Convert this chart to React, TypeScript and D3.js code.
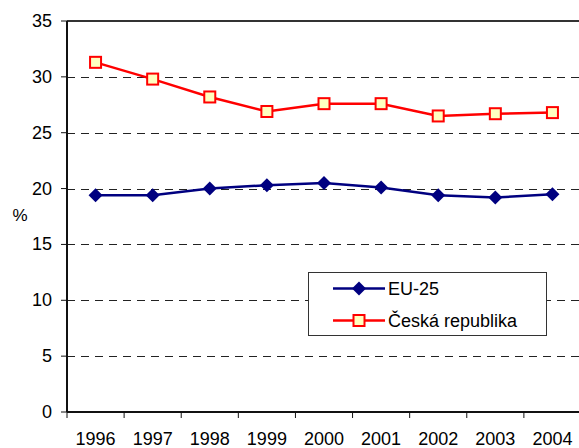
import React from "react";
import * as d3 from "d3";

const years = ["1996", "1997", "1998", "1999", "2000", "2001", "2002", "2003", "2004"];
const euValues = [19.4, 19.4, 20.0, 20.3, 20.5, 20.1, 19.4, 19.2, 19.5];
const czValues = [31.3, 29.8, 28.2, 26.9, 27.6, 27.6, 26.5, 26.7, 26.8];
const yTicks = [0, 5, 10, 15, 20, 25, 30, 35];
const seriesNames = ["EU-25", "Česká republika"];

const W = 579;
const H = 448;
const left = 67;
const right = 581;
const top = 21;
const bottom = 412;
const font = "Arial, 'Liberation Sans', sans-serif";

export default function App() {
  const x = d3.scaleBand<string>().domain(years).range([left, right]);
  const y = d3.scaleLinear().domain([0, 35]).range([bottom, top]);
  const cx = (yr: string) => (x(yr) as number) + x.bandwidth() / 2;

  const line = d3
    .line<[string, number]>()
    .x((d) => cx(d[0]))
    .y((d) => y(d[1]));

  const euData: [string, number][] = years.map((yr, i) => [yr, euValues[i]]);
  const czData: [string, number][] = years.map((yr, i) => [yr, czValues[i]]);

  const diamond = (px: number, py: number, r: number) =>
    `M${px},${py - r}L${px + r},${py}L${px},${py + r}L${px - r},${py}Z`;

  const navy = "#000080";
  const red = "#FF0000";
  const cream = "#FFFFC0";

  const lx0 = 333;
  const lx1 = 385;
  const lxm = 359;
  const ly1 = 288.5;
  const ly2 = 320.5;

  return (
    <svg
      width={W}
      height={H}
      style={{ position: "absolute", left: 0, top: 0, background: "#fff" }}
      fontFamily={font}
    >
      {yTicks
        .filter((t) => t > 0 && t < 35)
        .map((t) => (
          <line
            key={"g" + t}
            x1={left}
            x2={W}
            y1={Math.round(y(t)) + 0.5}
            y2={Math.round(y(t)) + 0.5}
            stroke="#222"
            strokeWidth={1}
            strokeDasharray="8,6"
          />
        ))}
      <line x1={left} x2={W} y1={top} y2={top} stroke="#333" strokeWidth={2} />
      <line x1={left} x2={left} y1={top} y2={bottom} stroke="#111" strokeWidth={2} />
      <line x1={left} x2={W} y1={bottom} y2={bottom} stroke="#111" strokeWidth={2} />
      {yTicks.map((t) => (
        <g key={"y" + t}>
          <line x1={left - 6} x2={left} y1={y(t)} y2={y(t)} stroke="#111" strokeWidth={1} />
          <text
            x={52}
            y={y(t)}
            textAnchor="end"
            dominantBaseline="central"
            fontSize={18}
            fill="#000"
          >
            {t}
          </text>
        </g>
      ))}
      {years.map((yr) => (
        <line
          key={"xt" + yr}
          x1={x(yr) as number}
          x2={x(yr) as number}
          y1={bottom}
          y2={bottom + 6}
          stroke="#111"
          strokeWidth={1}
        />
      ))}
      {years.map((yr) => (
        <text key={"xl" + yr} x={cx(yr)} y={445} textAnchor="middle" fontSize={18} fill="#000">
          {yr}
        </text>
      ))}
      <text x={20} y={215} textAnchor="middle" dominantBaseline="central" fontSize={17} fill="#000">
        %
      </text>

      <path d={line(euData) || ""} fill="none" stroke={navy} strokeWidth={2.5} />
      {euData.map((d) => (
        <path key={"eu" + d[0]} d={diamond(cx(d[0]), y(d[1]), 7)} fill={navy} />
      ))}
      <path d={line(czData) || ""} fill="none" stroke={red} strokeWidth={2.5} />
      {czData.map((d) => (
        <rect
          key={"cz" + d[0]}
          x={cx(d[0]) - 5.5}
          y={y(d[1]) - 5.5}
          width={11}
          height={11}
          fill={cream}
          stroke={red}
          strokeWidth={2}
        />
      ))}

      <rect x={308.5} y={272.5} width={238} height={63} fill="#fff" stroke="#333" strokeWidth={1} />
      <line x1={lx0} x2={lx1} y1={ly1} y2={ly1} stroke={navy} strokeWidth={2.5} />
      <path d={diamond(lxm, ly1, 7)} fill={navy} />
      <text x={388} y={ly1} dominantBaseline="central" fontSize={18} fill="#000">
        {seriesNames[0]}
      </text>
      <line x1={lx0} x2={lx1} y1={ly2} y2={ly2} stroke={red} strokeWidth={2.5} />
      <rect x={lxm - 5.5} y={ly2 - 5.5} width={11} height={11} fill={cream} stroke={red} strokeWidth={2} />
      <text x={388} y={ly2} dominantBaseline="central" fontSize={18} fill="#000">
        {seriesNames[1]}
      </text>
    </svg>
  );
}
